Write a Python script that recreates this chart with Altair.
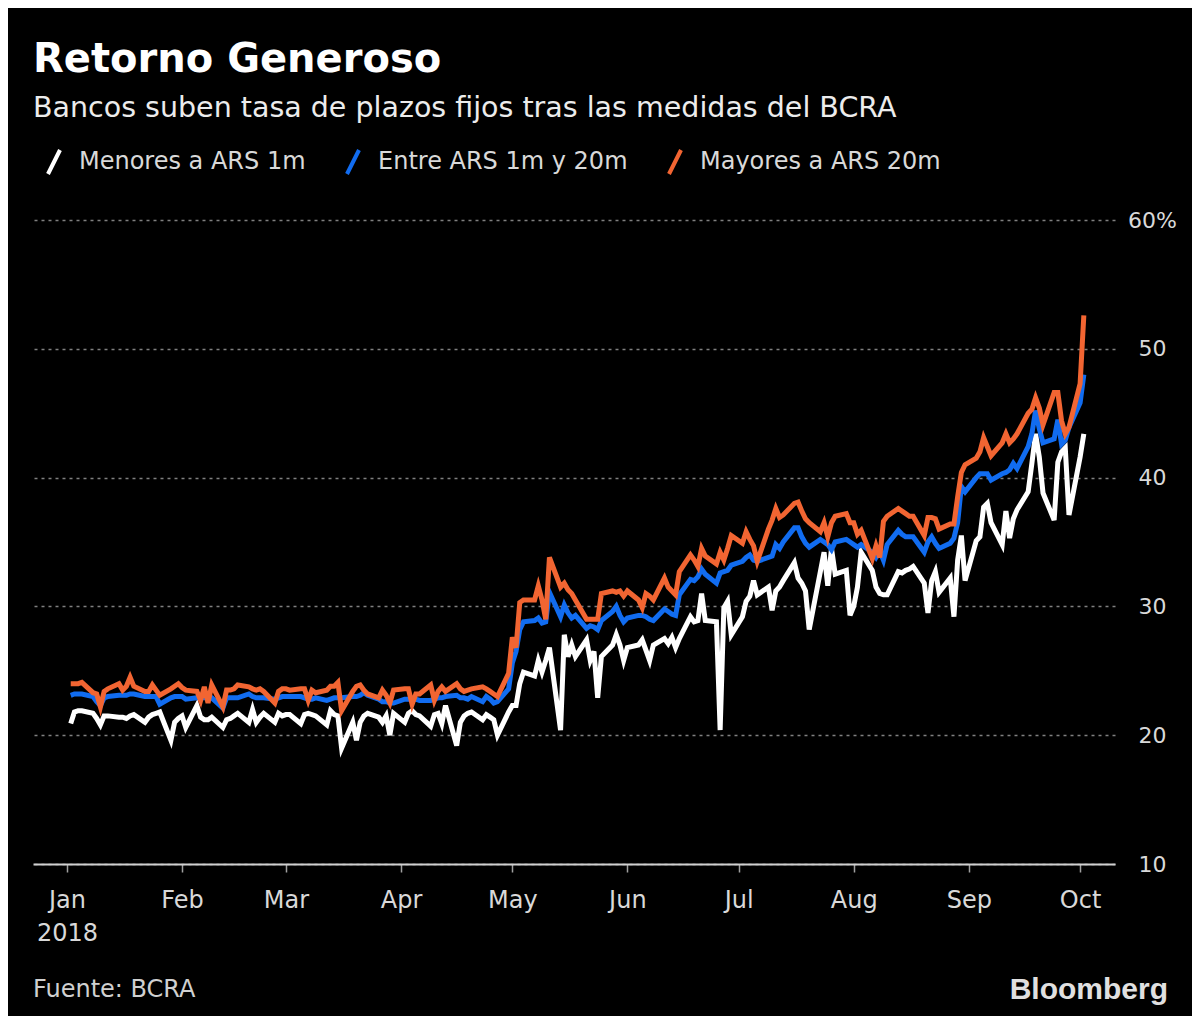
import altair as alt
import pandas as pd

FONT = "DejaVu Sans"

series_names = ["Menores a ARS 1m", "Entre ARS 1m y 20m", "Mayores a ARS 20m"]
series_colors = ["#ffffff", "#116cf0", "#f26532"]

# Business days from 2018-01-02 to 2018-10-02, values by month (percent)
menores = (
    [20.9, 21.8, 21.9, 21.9, 21.7, 21.3, 20.8, 21.5, 21.5, 21.4, 21.4, 21.3, 21.5, 21.6, 21.0, 21.4, 21.6, 21.7, 21.8, 19.6, 21.0, 21.3]
    + [21.5, 20.6, 22.3, 21.4, 21.2, 21.2, 21.4, 20.6, 21.2, 21.3, 21.5, 21.7, 21.0, 22.0, 21.0, 21.4, 21.7, 21.0, 21.7, 21.5]
    + [21.6, 21.6, 20.9, 21.6, 21.7, 21.6, 21.5, 20.8, 21.9, 21.6, 21.5, 19.0, 21.0, 19.6, 21.0, 21.5, 21.7, 21.4, 21.0, 21.5, 20.0, 21.7]
    + [21.0, 21.7, 21.9, 21.6, 21.5, 20.7, 21.6, 21.7, 20.9, 22.3, 19.2, 21.0, 21.5, 21.7, 21.8, 21.2, 21.6, 21.4, 21.2, 20.0, 21.8]
    + [22.3, 22.3, 24.0, 24.9, 24.6, 25.8, 24.9, 25.8, 26.8, 20.4, 27.8, 26.1, 27.0, 26.1, 27.4, 25.8, 26.5, 22.9, 26.1, 27.0, 27.8, 27.0, 25.8]
    + [26.8, 27.0, 27.4, 26.6, 25.8, 27.0, 27.5, 27.1, 27.6, 26.8, 27.5, 29.2, 28.8, 28.9, 31.0, 28.9, 28.8, 20.4, 29.9, 30.4, 27.8]
    + [29.2, 30.4, 30.8, 32.0, 30.9, 31.5, 29.7, 31.2, 31.5, 32.0, 33.4, 32.2, 31.8, 31.2, 28.2, 32.7, 34.2, 31.6, 34.5, 32.5, 32.8, 29.3]
    + [30.0, 31.5, 34.2, 32.8, 31.5, 31.0, 30.9, 30.9, 32.7, 32.6, 32.8, 32.9, 33.1, 31.8, 29.5, 32.0, 32.7, 31.1, 32.2, 29.2, 33.6, 35.5, 32.0]
    + [35.1, 35.4, 37.7, 38.0, 36.5, 34.8, 37.4, 35.3, 36.8, 37.5, 38.9, 41.1, 43.4, 41.6, 38.8, 36.7, 41.2, 42.0, 42.3, 37.1]
    + [41.6, 43.4]
)

entre = (
    [23.1, 23.2, 23.2, 23.2, 23.0, 22.6, 22.3, 22.9, 23.0, 23.1, 23.1, 23.1, 23.2, 23.2, 23.0, 23.0, 23.0, 23.0, 22.4, 22.9, 23.0, 23.0]
    + [23.0, 22.8, 22.9, 22.9, 22.9, 22.9, 22.9, 22.1, 22.9, 22.9, 22.9, 22.9, 23.2, 23.0, 22.9, 22.9, 22.9, 22.8, 22.9, 23.0]
    + [23.0, 23.0, 23.0, 22.9, 22.8, 22.8, 22.9, 22.7, 22.8, 22.9, 22.9, 22.9, 23.0, 23.0, 23.1, 23.3, 23.1, 22.8, 22.6, 22.6, 22.5, 22.5]
    + [22.8, 22.8, 22.8, 22.8, 22.7, 22.7, 22.8, 22.9, 22.9, 23.0, 23.1, 22.9, 22.9, 22.8, 23.0, 22.6, 23.0, 22.8, 22.5, 22.6, 23.6]
    + [25.6, 26.5, 28.2, 28.8, 28.9, 29.1, 28.7, 28.8, 31.1, 29.2, 30.1, 29.5, 29.1, 29.3, 28.3, 28.5, 28.4, 28.2, 28.9, 29.6, 30.0, 29.3, 28.8]
    + [29.1, 29.3, 29.3, 29.2, 29.0, 28.9, 29.8, 29.6, 29.4, 29.3, 30.9, 32.1, 32.0, 32.3, 32.9, 32.5, 31.8, 32.6, 32.7, 32.8, 33.2]
    + [33.5, 33.8, 34.0, 33.6, 33.5, 33.8, 33.9, 34.8, 34.5, 35.0, 36.1, 36.1, 35.4, 34.9, 34.6, 35.2, 35.0, 34.8, 34.4, 35.0, 35.2, 35.0]
    + [34.8, 34.6, 34.8, 34.2, 33.8, 34.3, 33.6, 34.8, 35.9, 35.6, 35.4, 35.4, 35.4, 34.2, 35.0, 35.4, 34.9, 34.5, 34.9, 35.3, 36.5, 39.3, 38.9]
    + [40.0, 40.3, 40.3, 40.3, 39.8, 40.3, 40.4, 40.6, 41.1, 40.7, 42.4, 43.4, 45.2, 43.8, 42.7, 43.0, 44.5, 42.6, 42.9, 43.9]
    + [45.8, 48.0]
)

mayores = (
    [24.0, 24.0, 24.0, 24.1, 23.3, 23.2, 22.2, 23.4, 23.6, 24.0, 23.5, 23.8, 24.5, 23.8, 23.4, 23.4, 23.9, 23.5, 23.1, 23.6, 23.8, 24.0]
    + [23.7, 23.5, 23.4, 22.7, 23.75, 22.5, 23.9, 22.2, 23.5, 23.5, 23.6, 23.9, 23.75, 23.6, 23.5, 23.6, 23.4, 22.5, 23.4, 23.6]
    + [23.6, 23.5, 23.6, 23.6, 22.7, 23.5, 23.3, 23.5, 23.8, 23.8, 24.1, 21.9, 23.4, 23.8, 23.9, 23.5, 23.2, 22.9, 23.5, 23.1, 22.5, 23.5]
    + [23.6, 23.6, 22.4, 23.2, 23.2, 23.9, 22.7, 23.4, 23.75, 23.4, 24.0, 23.6, 23.4, 23.5, 23.6, 23.75, 23.6, 23.4, 23.2, 23.0, 24.8]
    + [27.6, 26.8, 30.3, 30.5, 30.5, 31.6, 30.5, 29.0, 33.8, 31.5, 31.8, 31.3, 31.0, 30.5, 29.0, 29.0, 29.0, 29.0, 31.0, 31.2, 31.1, 31.2, 30.8]
    + [31.2, 30.5, 29.9, 31.0, 30.8, 30.5, 32.2, 31.5, 31.2, 30.9, 32.7, 34.0, 33.6, 33.1, 34.5, 33.9, 33.3, 34.2, 33.6, 34.5, 35.5]
    + [34.9, 35.8, 35.2, 34.7, 33.5, 36.0, 36.7, 37.6, 36.9, 37.1, 38.0, 38.1, 37.4, 36.8, 36.5, 35.8, 36.5, 35.4, 36.5, 37.0, 37.2, 36.5]
    + [36.5, 35.6, 35.9, 33.7, 34.7, 33.8, 36.6, 37.0, 37.6, 37.4, 37.2, 37.0, 37.0, 35.5, 36.9, 36.9, 36.8, 36.0, 36.4, 36.4, 38.5, 40.4, 41.0]
    + [41.5, 42.0, 43.1, 42.4, 41.7, 42.7, 43.4, 42.7, 43.0, 43.4, 45.0, 45.3, 46.2, 45.4, 44.1, 46.6, 46.6, 44.4, 43.4, 43.9]
    + [47.3, 52.6]
)

fechas = pd.bdate_range("2018-01-02", "2018-10-02")
assert len(fechas) == len(menores) == len(entre) == len(mayores), (len(fechas), len(menores), len(entre), len(mayores))

rows = []
for name, vals in zip(series_names, [menores, entre, mayores]):
    for f, v in zip(fechas, vals):
        rows.append({"fecha": f, "tasa": v, "serie": name})
df = pd.DataFrame(rows)

y_ticks = [10, 20, 30, 40, 50, 60]
month_ticks = [alt.DateTime(year=2018, month=m, date=1) for m in range(1, 11)]

x_enc = alt.X(
    "fecha:T",
    scale=alt.Scale(domain=[alt.DateTime(year=2017, month=12, date=22, hours=20, minutes=7),
                            alt.DateTime(year=2018, month=10, date=10, hours=9, minutes=36)]),
    axis=alt.Axis(
        values=month_ticks,
        labelExpr="month(datum.value) == 0 ? [timeFormat(datum.value, '%b'), timeFormat(datum.value, '%Y')] : timeFormat(datum.value, '%b')",
        title=None, grid=False,
        domainColor="#d0d0d0", domainWidth=2,
        tickColor="#a0a0a0", tickSize=8, tickWidth=1.5,
        labelColor="#d9d9d9", labelFontSize=24, labelFont=FONT,
        labelPadding=16, labelLineHeight=33, labelAlign="center", labelFlush=False,
    ),
)
y_enc = alt.Y(
    "tasa:Q",
    scale=alt.Scale(domain=[10, 60], nice=False, zero=False),
    axis=alt.Axis(
        orient="right", values=y_ticks,
        labelExpr="datum.value == 60 ? '60%' : datum.label",
        domain=False, ticks=False, grid=True,
        gridColor="#808080", gridDash=[3, 4], gridWidth=1.5,
        labelPadding=37, labelAlign="center", labelFontSize=22, labelFont=FONT,
        labelColor="#d9d9d9", title=None,
    ),
)

lines = alt.Chart(df).mark_line(strokeWidth=5).encode(
    x=x_enc,
    y=y_enc,
    color=alt.Color(
        "serie:N",
        scale=alt.Scale(domain=series_names, range=series_colors),
        legend=alt.Legend(
            orient="none", legendX=7, legendY=-72, direction="horizontal",
            title=None, symbolType="M-0.5,1L0.5,-1", symbolSize=576,
            symbolStrokeWidth=4, labelFontSize=24, labelColor="#d9d9d9",
            labelFont=FONT, labelOffset=11, columnPadding=33, labelLimit=500,
        ),
    ),
    order=alt.Order("fecha:T"),
)


def txt(text, x, y, size, weight="normal", color="#ffffff", align="left", font=FONT):
    return alt.Chart(pd.DataFrame({"t": [text]})).mark_text(
        align=align, baseline="alphabetic", fontSize=size, fontWeight=weight,
        color=color, font=font,
    ).encode(text="t:N", x=alt.value(x), y=alt.value(y))


title = txt("Retorno Generoso", 0, -148, 40, weight="bold")
subtitle = txt("Bancos suben tasa de plazos fijos tras las medidas del BCRA", 0, -103, 28.5, color="#ececec")
source = txt("Fuente: BCRA", 0, 777, 24, color="#d0d0d0")
logo = txt("Bloomberg", 1135, 779, 30, weight="bold", color="#e0e0e0", align="right", font="Liberation Sans")

chart = alt.layer(lines, title, subtitle, source, logo).properties(
    width=1082, height=644,
    padding={"left": 25, "top": 212, "right": 77, "bottom": 152},
    autosize=alt.AutoSizeParams(type="none"),
    background="#000000",
).configure(font=FONT, view=alt.ViewConfig(strokeWidth=0, stroke="transparent"))

chart.save("out.html", embed_options={"renderer": "svg", "actions": False})
